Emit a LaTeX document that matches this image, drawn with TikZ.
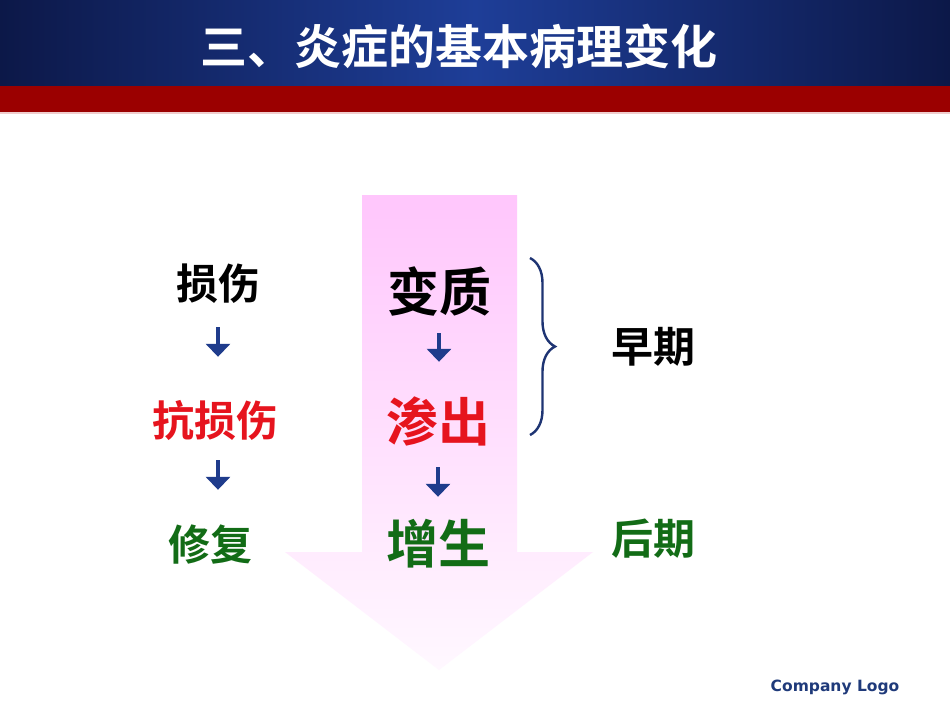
\documentclass[tikz,border=0pt]{standalone}
\usepackage{fontspec}
\newfontfamily\cjk{Noto Sans CJK SC}[BoldFont={* Bold}]
\newfontfamily\logofont{DejaVu Sans}
\usetikzlibrary{arrows.meta,decorations.pathreplacing}
\definecolor{navyedge}{RGB}{12,24,72}
\definecolor{navymid}{RGB}{30,62,152}
\definecolor{bandred}{RGB}{155,0,0}
\definecolor{arrowblue}{RGB}{31,60,140}
\definecolor{bracecol}{RGB}{30,52,115}
\definecolor{txtred}{RGB}{230,20,30}
\definecolor{txtgreen}{RGB}{18,108,22}
\definecolor{pinktop}{RGB}{255,198,252}
\definecolor{pinkbot}{RGB}{255,248,255}
\definecolor{logoblue}{RGB}{31,58,122}
\definecolor{pinkline}{RGB}{240,205,205}
\begin{document}
\begin{tikzpicture}[x=1pt,y=-1pt,
  lbl/.style={font=\cjk\bfseries\fontsize{#1}{#1}\selectfont, inner sep=0pt,
    text height={0.88*#1}, text depth={0.12*#1}},
  barrow/.style={draw=arrowblue, line width=3.6pt, -{Triangle[width=24pt,length=13pt]}}
]
\useasboundingbox (0,0) rectangle (950,713);
\fill[white] (0,0) rectangle (950,713);
% header
\shade[left color=navyedge, right color=navyedge, middle color=navymid] (0,0) rectangle (950,86);
\fill[bandred] (0,86) rectangle (950,112);
\fill[pinkline] (0,112) rectangle (950,114);
\node[lbl=47, text=white] (title) at (459,47) {三、炎症的基本病理变化};
% big arrow
\shade[top color=pinktop, bottom color=pinkbot]
  (362,195) -- (517,195) -- (517,552) -- (593,552) -- (439,670) -- (285,552) -- (362,552) -- cycle;
% left column
\node[lbl=42] (n1) at (218,284) {损伤};
\node[lbl=42, text=txtred] (n2) at (215,421) {抗损伤};
\node[lbl=42, text=txtgreen] (n3) at (210,545) {修复};
\draw[barrow, shorten <=22pt, shorten >=43pt] (n1.south) -- (n1.south |- n2.north);
\draw[barrow, shorten <=18pt, shorten >=34pt] (n1 |- n2.south) -- (n1 |- n3.north);
% middle column
\node[lbl=52] (m1) at (439,292) {变质};
\node[lbl=52, text=txtred] (m2) at (438,422) {渗出};
\node[lbl=52, text=txtgreen] (m3) at (438,544) {增生};
\draw[barrow, shorten <=15pt, shorten >=34pt] (m1.south) -- (m1.south |- m2.north);
\draw[barrow, shorten <=19pt, shorten >=21pt] (m3 |- m2.south) -- (m3.north);
% right column
\coordinate (bt) at (530,258);
\coordinate (bb) at (530,435);
\draw[bracecol, line width=2.4pt, decorate, decoration={brace, amplitude=25pt}] (bt) -- (bb);
\node[lbl=42] (r1) at (653,347) {早期};
\node[lbl=42, text=txtgreen] (r2) at (653,539) {后期};
% logo
\node[font=\logofont\bfseries\fontsize{15.5}{15.5}\selectfont, text=logoblue, inner sep=0pt] (logo) at (835,687) {Company Logo};
\end{tikzpicture}
\end{document}
